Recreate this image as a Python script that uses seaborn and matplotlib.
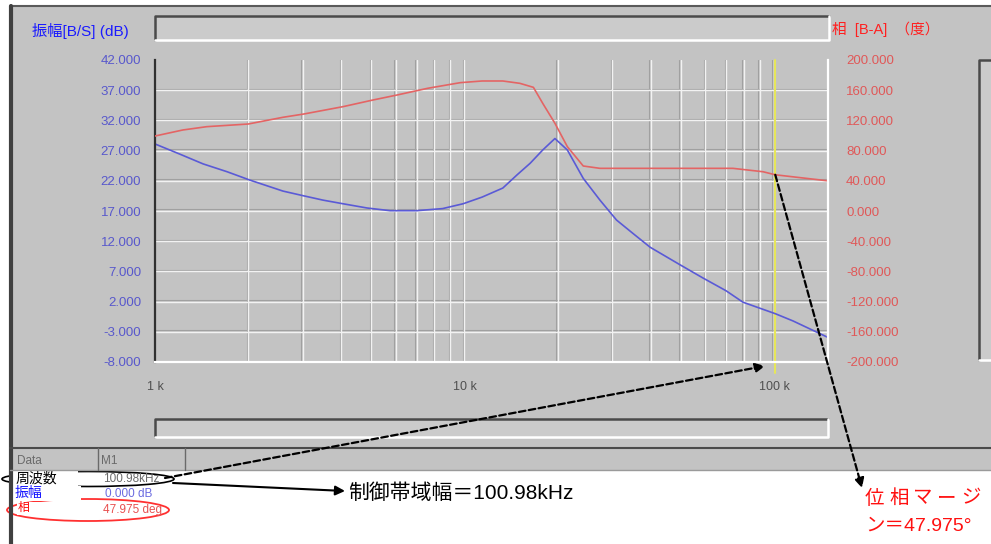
import matplotlib
matplotlib.use("Agg")
import matplotlib.pyplot as plt
import seaborn as sns
import pandas as pd
from matplotlib.patches import Rectangle, Ellipse
from matplotlib.ticker import FuncFormatter, NullFormatter, FixedLocator
from matplotlib.transforms import offset_copy

# gain curve, frequency in kHz
gain_freq = [1.0, 1.205, 1.43, 1.71, 2.03, 2.59, 3.03, 3.49, 4.05, 4.84, 5.75, 7.0,
             8.5, 9.9, 11.4, 13.3, 14.8, 16.3, 17.9, 19.6, 21.5, 24.2, 27.4, 31.0,
             35.0, 39.8, 49.7, 59.0, 70.0, 79.4, 100.98, 115.2, 149.0]
gain_db = [28.1, 26.4, 24.8, 23.5, 22.1, 20.3, 19.5, 18.8, 18.2, 17.5, 17.05, 17.05,
           17.4, 18.2, 19.3, 20.8, 23.0, 24.9, 27.1, 29.0, 27.1, 22.4, 18.8, 15.5,
           13.3, 11.0, 8.1, 5.9, 3.8, 1.9, 0.0, -1.2, -3.9]

# phase curve, frequency in kHz
phase_freq = [1.0, 1.23, 1.47, 2.0, 2.59, 3.03, 4.05, 5.06, 6.05, 7.6, 9.7, 11.4,
              13.3, 15.1, 16.7, 17.9, 19.6, 21.5, 24.2, 27.4, 73.7, 92.2, 100.98, 149.0]
phase_deg = [99.3, 107.3, 111.7, 115.2, 124.1, 128.5, 138.2, 147.0, 153.6, 162.5, 170.0, 172.2,
             172.2, 169.1, 163.8, 142.6, 116.2, 85.2, 59.6, 56.5, 56.5, 52.0, 47.975, 40.0]

gain_ticks = [42, 37, 32, 27, 22, 17, 12, 7, 2, -3, -8]
phase_ticks = [200, 160, 120, 80, 40, 0, -40, -80, -120, -160, -200]
freq_ticks = [1, 10, 100]
freq_labels = ["1 k", "10 k", "100 k"]

crossover_khz = 100.98
phase_margin = 47.975

sns.set_theme(style="white")
plt.rcParams["font.family"] = ["Liberation Sans", "Noto Sans CJK JP", "DejaVu Sans"]

W, H = 991, 544
PANEL = "#c3c3c3"
BLUE = "#5a5ad6"
RED = "#e46464"

fig = plt.figure(figsize=(W / 100, H / 100), dpi=100)
fig.patch.set_facecolor("white")

# background layer in pixel coordinates
bg = fig.add_axes([0, 0, 1, 1])
bg.set_xlim(0, W)
bg.set_ylim(H, 0)
bg.axis("off")

bg.add_patch(Rectangle((10, 6), W - 10, 464, facecolor=PANEL, edgecolor="none"))
bg.plot([10, W], [6, 6], color="#5a5a5a", lw=1.5)
bg.plot([11, 11], [6, H], color="#404040", lw=3)


def sunken(x0, y0, x1, y1):
    bg.add_patch(Rectangle((x0, y0), x1 - x0, y1 - y0, facecolor="#cbcbcb", edgecolor="none"))
    bg.plot([x0, x0, x1], [y1, y0, y0], color="#4a4a4a", lw=1.8)
    bg.plot([x0, x1, x1], [y1, y1, y0], color="white", lw=1.8)


sunken(155, 16, 829, 40)
sunken(155, 419, 828, 437)
sunken(979, 60, 996, 360)

# table header
bg.plot([10, W], [448, 448], color="#4a4a4a", lw=1.5)
bg.plot([10, W], [470, 470], color="#9a9a9a", lw=1)
bg.plot([98, 98], [448, 470], color="#6a6a6a", lw=1)
bg.plot([185, 185], [448, 470], color="#6a6a6a", lw=1)
bg.text(17, 461, "Data", fontsize=8.5, color="#6a6a6a", va="center")
bg.text(101, 461, "M1", fontsize=8.5, color="#6a6a6a", va="center")

# table rows with hand-drawn marks
bg.add_patch(Ellipse((88, 479), 172, 15, facecolor="none", edgecolor="black", lw=1.2))
bg.add_patch(Ellipse((88, 510), 162, 22, facecolor="none", edgecolor="#ff3030", lw=1.3))
bg.add_patch(Rectangle((13, 471), 65, 15, facecolor="white", edgecolor="none"))
bg.add_patch(Rectangle((13, 486), 68, 15, facecolor="white", edgecolor="none"))
bg.add_patch(Rectangle((17, 502), 71, 13, facecolor="white", edgecolor="none"))
bg.text(16, 479, "周波数", fontsize=10, color="black", va="center")
bg.text(15, 493, "振幅", fontsize=10, color="#1010ff", va="center")
bg.text(18, 508, "相", fontsize=8.5, color="#ff0000", va="center")
bg.text(103, 479, "100.98kHz", fontsize=8.5, color="#6a6a6a", va="center")
bg.text(105, 494, "0.000 dB", fontsize=8.5, color="#6a6ae0", va="center")
bg.text(103, 510, "47.975 deg", fontsize=8.5, color="#e85050", va="center")

# axis titles
bg.text(32, 31, "振幅[B/S] (dB)", fontsize=11, color="#1a1aff", va="center")
bg.text(832, 29, "相  [B-A]  （度）", fontsize=10.5, color="#ff2020", va="center")

# plot area
ax = fig.add_axes([155 / W, 1 - 362 / H, (828 - 155) / W, (362 - 60) / H])
ax.set_zorder(1)
ax.set_facecolor("none")
gain_df = pd.DataFrame({"freq": gain_freq, "gain": gain_db})
sns.lineplot(data=gain_df, x="freq", y="gain", ax=ax, color=BLUE, lw=1.2)
ax.set_xscale("log")
ax.set_xlim(1, 149.5)
ax.set_ylim(-8, 42)

grid_x = [k * 10 ** d for d in range(3) for k in range(1, 10) if k * 10 ** d < 149]
dark_x = offset_copy(ax.get_xaxis_transform(), fig=fig, x=-1.5, units="dots")
dark_y = offset_copy(ax.get_yaxis_transform(), fig=fig, y=1.5, units="dots")
for gx in grid_x[1:]:
    ax.plot([gx, gx], [0, 1], color="#a0a0a0", lw=0.8, transform=dark_x, zorder=0)
    ax.axvline(gx, color="#f2f2f2", lw=1.0, zorder=0.5)
for gy in gain_ticks[1:-1]:
    ax.plot([0, 1], [gy, gy], color="#a0a0a0", lw=0.8, transform=dark_y, zorder=0)
    ax.axhline(gy, color="#f2f2f2", lw=1.0, zorder=0.5)

ax.set_yticks(gain_ticks)
ax.yaxis.set_major_formatter(FuncFormatter(lambda v, _: f"{v:.3f}"))
ax.xaxis.set_major_locator(FixedLocator(freq_ticks))
ax.set_xticklabels(freq_labels)
ax.xaxis.set_minor_formatter(NullFormatter())
ax.tick_params(axis="y", length=0, pad=10, labelsize=9.5, labelcolor="#5858cc")
ax.tick_params(axis="x", which="both", length=0, pad=14, labelsize=9, labelcolor="#505050")
ax.set_xlabel("")
ax.set_ylabel("")
ax.spines["left"].set_color("#303030")
ax.spines["left"].set_linewidth(1.6)
ax.spines["bottom"].set_color("white")
ax.spines["bottom"].set_linewidth(1.6)
ax.spines["top"].set_visible(False)
ax.spines["right"].set_visible(False)

ax.axvline(crossover_khz, ymin=-0.035, ymax=1, color="#e6e65a", lw=1.5, clip_on=False, zorder=1)

ax2 = ax.twinx()
ax2.set_zorder(2)
phase_df = pd.DataFrame({"freq": phase_freq, "phase": phase_deg})
sns.lineplot(data=phase_df, x="freq", y="phase", ax=ax2, color=RED, lw=1.2)
ax2.set_ylim(-200, 200)
ax2.set_yticks(phase_ticks)
ax2.yaxis.set_major_formatter(FuncFormatter(lambda v, _: f"{v:.3f}"))
ax2.tick_params(axis="y", length=0, pad=13, labelsize=9.5, labelcolor="#e05858")
ax2.set_ylabel("")
for side in ["left", "top", "bottom"]:
    ax2.spines[side].set_visible(False)
ax2.spines["right"].set_color("white")
ax2.spines["right"].set_linewidth(1.6)
ax2.grid(False)

# annotation arrows
ax2.annotate("", xy=(862, 488), xycoords=bg.transData,
             xytext=(crossover_khz, phase_margin), textcoords="data",
             arrowprops=dict(arrowstyle="-|>", color="black", lw=1.6, linestyle=(0, (3, 1.5)),
                             shrinkA=0, shrinkB=0, mutation_scale=14),
             annotation_clip=False)
bg.annotate("", xy=(765, 366), xytext=(165, 478),
            arrowprops=dict(arrowstyle="-|>", color="black", lw=1.6, linestyle=(0, (3, 1.5)),
                            shrinkA=0, shrinkB=0, mutation_scale=14))
bg.annotate("", xy=(345, 491), xytext=(173, 483),
            arrowprops=dict(arrowstyle="-|>", color="black", lw=1.5,
                            shrinkA=0, shrinkB=0, mutation_scale=14))

bg.text(348, 493, "制御帯域幅＝100.98kHz", fontsize=15, color="black", va="center")
for i, ch in enumerate("位相マージ"):
    bg.text(865 + i * 24, 499, ch, fontsize=14, color="#ff1010", va="center")
bg.text(865, 526, "ン＝47.975°", fontsize=14, color="#ff1010", va="center")

fig.savefig("out.png", dpi=100, facecolor=fig.get_facecolor())
